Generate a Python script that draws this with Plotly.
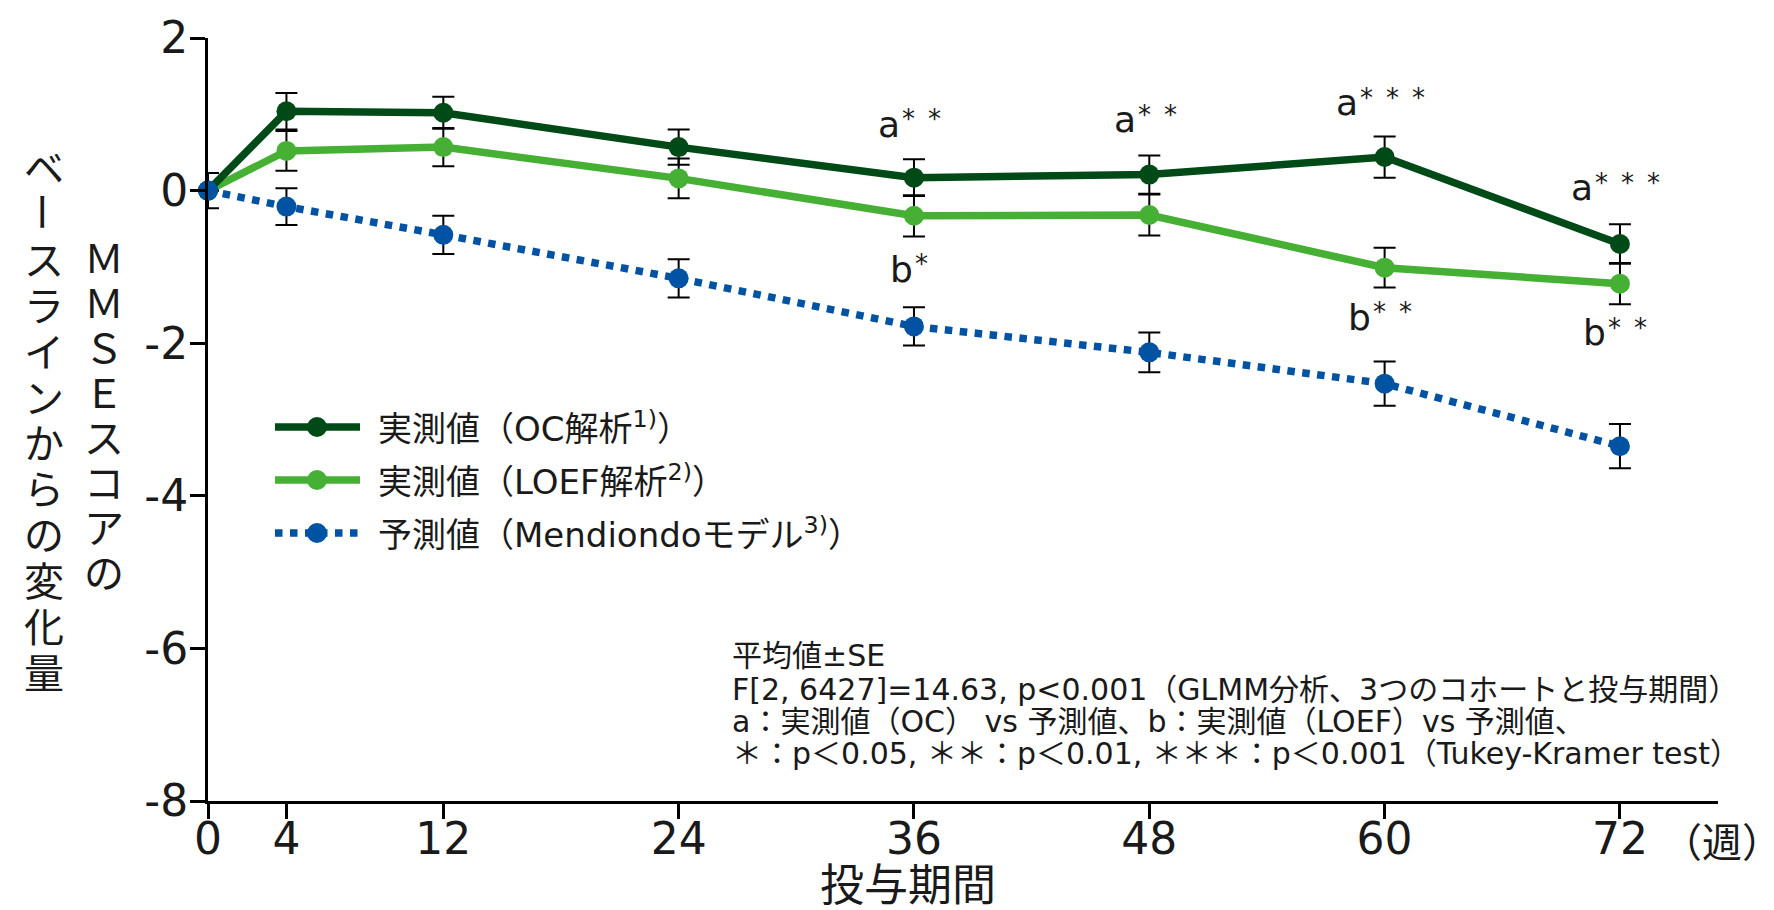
import plotly.graph_objects as go

# ---------------- data ----------------
weeks = [0, 4, 12, 24, 36, 48, 60, 72]
oc_mean = [0, 1.04, 1.02, 0.57, 0.17, 0.21, 0.44, -0.70]
oc_se = [0, 0.24, 0.21, 0.23, 0.24, 0.25, 0.27, 0.26]
loef_mean = [0, 0.52, 0.57, 0.16, -0.33, -0.32, -1.01, -1.22]
loef_se = [0, 0.26, 0.25, 0.26, 0.27, 0.27, 0.26, 0.27]
pred_mean = [0, -0.21, -0.58, -1.15, -1.78, -2.12, -2.53, -3.35]
pred_se = [0.23, 0.24, 0.25, 0.25, 0.25, 0.26, 0.29, 0.29]

series_names = ["実測値（OC解析<sup>1)</sup>）",
                "実測値（LOEF解析<sup>2)</sup>）",
                "予測値（Mendiondoモデル<sup>3)</sup>）"]

sig_weeks = [36, 48, 60, 72, 36, 60, 72]
sig_letter = ["a", "a", "a", "a", "b", "b", "b"]
sig_stars = [2, 2, 3, 3, 1, 2, 2]
sig_y = [0.87, 0.93, 1.15, 0.04, -1.03, -1.66, -1.86]

y_ticks = [-8, -6, -4, -2, 0, 2]
x_title = "投与期間"
x_unit = "（週）"
y_title_right = "ＭＭＳＥスコアの"
y_title_left = "ベースラインからの変化量"
notes = ["平均値±SE",
         "F[2, 6427]=14.63, p<0.001（GLMM分析、3つのコホートと投与期間）",
         "a：実測値（OC） vs 予測値、b：実測値（LOEF）vs 予測値、",
         "＊：p＜0.05, ＊＊：p＜0.01, ＊＊＊：p＜0.001（Tukey-Kramer test）"]

# ---------------- style ----------------
C_OC = "#004a17"
C_LOEF = "#46b035"
C_PRED = "#0052a2"
TXT = "#1a1a1a"
LAT = "DejaVu Sans, Noto Sans CJK JP"
CJK = "Noto Sans CJK JP"

W, H = 1774, 910
OFF = 8  # page body margin
L, T = 200, 30
PW, PH = 1510, 763
R, B = W - L - PW, H - T - PH


def sx(x):
    """screen x (px) -> paper coordinate"""
    return (x - OFF - L) / PW


def sy(y):
    """screen y (px) -> paper coordinate"""
    return 1 - (y - OFF - T) / PH


fig = go.Figure()

specs = [
    (loef_mean, loef_se, C_LOEF, "solid"),
    (oc_mean, oc_se, C_OC, "solid"),
    (pred_mean, pred_se, C_PRED, "dot"),
]
for ys, se, col, dash in specs:
    fig.add_trace(go.Scatter(
        x=weeks, y=ys, mode="lines+markers",
        line=dict(color=col, width=7.5, dash=dash),
        marker=dict(color=col, size=20),
        error_y=dict(type="data", array=se, color="black", thickness=2, width=11),
        cliponaxis=False, showlegend=False, hoverinfo="skip",
    ))

annotations = []
# significance labels: letter + raised small asterisks
STAR = 26
for w, let, n, yv in zip(sig_weeks, sig_letter, sig_stars, sig_y):
    star_w = STAR * n - STAR / 2
    letter_right = (4 - star_w) / 2 + 6
    annotations.append(dict(
        x=w, y=yv, xref="x", yref="y", showarrow=False, text=let,
        font=dict(family=LAT, size=36, color=TXT),
        xanchor="right", yanchor="middle", xshift=letter_right))
    annotations.append(dict(
        x=w, y=yv, xref="x", yref="y", showarrow=False,
        text="\u2002".join(["*"] * n),
        font=dict(family=LAT, size=STAR, color=TXT),
        xanchor="left", yanchor="middle", xshift=letter_right - 2, yshift=5))

# y-axis title (vertical writing, two columns)
for i, ch in enumerate(y_title_right):
    annotations.append(dict(
        x=sx(104), y=sy(256 + i * 45), xref="paper", yref="paper", showarrow=False,
        text=ch, font=dict(family=CJK, size=40, color=TXT),
        textangle=90 if ch == "ー" else 0, xanchor="center", yanchor="middle"))
for i, ch in enumerate(y_title_left):
    annotations.append(dict(
        x=sx(44), y=sy(166 + i * 45.9), xref="paper", yref="paper", showarrow=False,
        text=ch, font=dict(family=CJK, size=40, color=TXT),
        textangle=90 if ch == "ー" else 0, xanchor="center", yanchor="middle"))

# x-axis title and unit
annotations.append(dict(x=sx(908), y=sy(882), xref="paper", yref="paper", showarrow=False,
                        text=x_title, font=dict(family=CJK, size=44, color=TXT),
                        xanchor="center", yanchor="middle"))
annotations.append(dict(x=sx(1722), y=sy(840), xref="paper", yref="paper", showarrow=False,
                        text=x_unit, font=dict(family=CJK, size=40, color=TXT),
                        xanchor="center", yanchor="middle"))

# notes, one annotation per line
note_rows = [655, 689, 721, 753]
for rowy, line in zip(note_rows, notes):
    annotations.append(dict(x=sx(730), y=sy(rowy), xref="paper", yref="paper", showarrow=False,
                            text=line, align="left",
                            font=dict(family=LAT, size=30, color=TXT),
                            xanchor="left", yanchor="middle"))

# custom legend
shapes = []
leg_rows = [427, 480, 533]
leg_cols = [C_OC, C_LOEF, C_PRED]
leg_dash = ["solid", "solid", "dot"]
for rowy, name, col, dash in zip(leg_rows, series_names, leg_cols, leg_dash):
    shapes.append(dict(type="line", xref="paper", yref="paper",
                       x0=sx(275), x1=sx(360), y0=sy(rowy), y1=sy(rowy),
                       line=dict(color=col, width=7.5, dash=dash)))
    shapes.append(dict(type="circle", xref="paper", yref="paper",
                       xsizemode="pixel", ysizemode="pixel",
                       xanchor=sx(317), yanchor=sy(rowy),
                       x0=-10, x1=10, y0=-10, y1=10,
                       fillcolor=col, line=dict(color=col, width=0)))
    annotations.append(dict(x=sx(376), y=sy(rowy), xref="paper", yref="paper", showarrow=False,
                            text=name, font=dict(family=LAT, size=34, color=TXT),
                            xanchor="left", yanchor="middle"))

axis_common = dict(showline=True, linecolor="black", linewidth=3, ticks="outside",
                   ticklen=15, tickwidth=3, tickcolor="black", showgrid=False,
                   zeroline=False, tickfont=dict(family=LAT, size=44, color=TXT))

fig.update_layout(
    width=W, height=H,
    margin=dict(l=L, r=R, t=T, b=B, autoexpand=False),
    paper_bgcolor="white", plot_bgcolor="white",
    xaxis=dict(range=[0, 77], tickvals=weeks, ticktext=[str(w) for w in weeks],
               ticklabelstandoff=-18, **axis_common),
    yaxis=dict(range=[-8, 2], tickvals=y_ticks, ticktext=[str(v) for v in y_ticks],
               ticklabelstandoff=-7, **axis_common),
    annotations=annotations, shapes=shapes, showlegend=False,
)

fig.write_html("out.html")
